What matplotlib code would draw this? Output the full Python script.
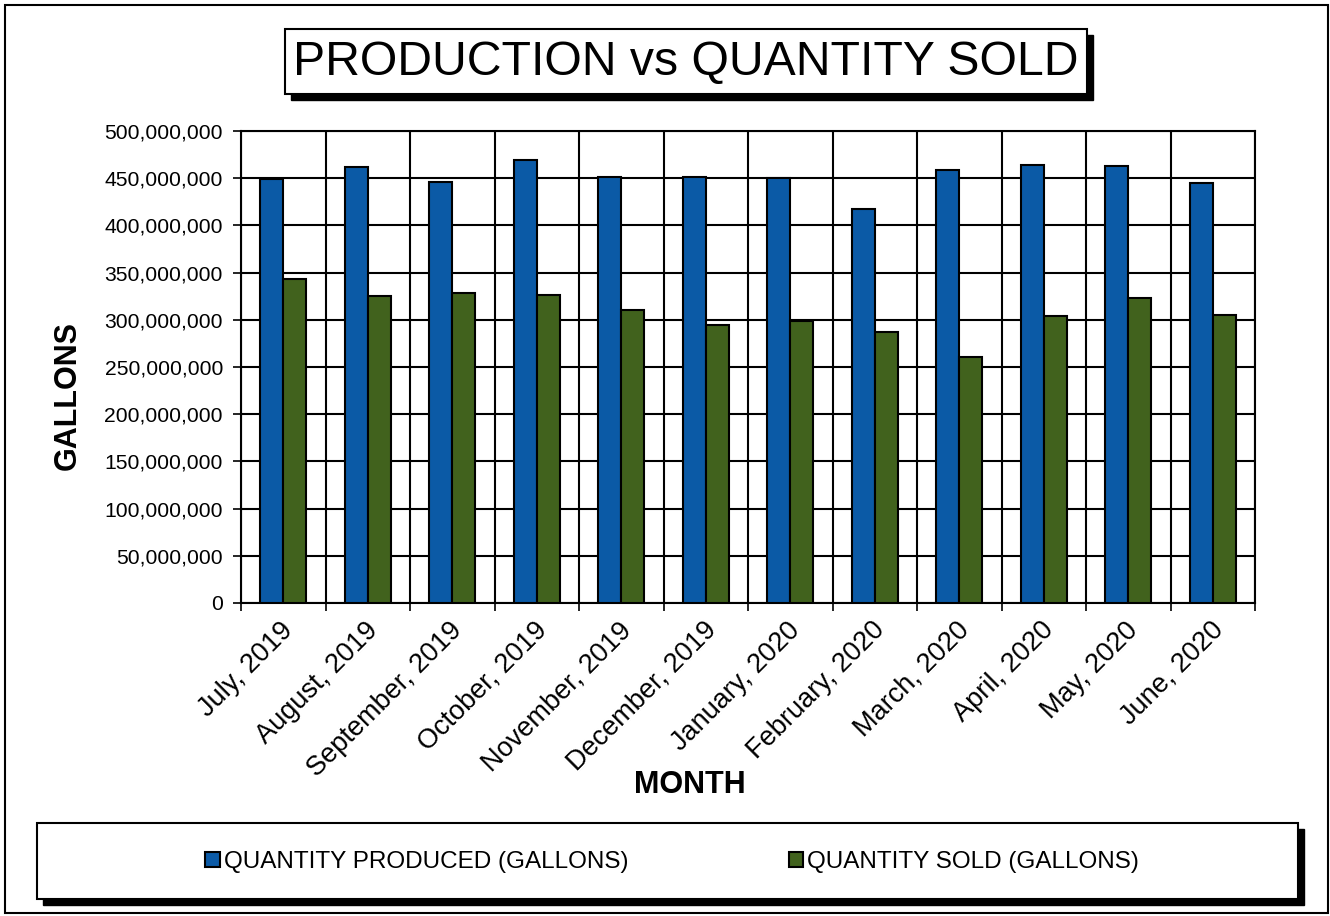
import matplotlib
matplotlib.use("Agg")
import matplotlib.pyplot as plt
from matplotlib.patches import Rectangle
import numpy as np

months = ["July, 2019", "August, 2019", "September, 2019", "October, 2019",
          "November, 2019", "December, 2019", "January, 2020", "February, 2020",
          "March, 2020", "April, 2020", "May, 2020", "June, 2020"]
produced = [449e6, 462e6, 446e6, 469e6, 451e6, 451e6, 450.5e6, 417e6,
            459e6, 464.5e6, 463e6, 445e6]
sold = [343e6, 325e6, 328e6, 326e6, 310e6, 294e6, 299e6, 287e6,
        260.5e6, 304.5e6, 323e6, 305e6]
yticks = np.arange(0, 500e6 + 1, 50e6)

plt.rcParams['font.family'] = ['Liberation Sans', 'DejaVu Sans']

W, H = 1330, 916
fig = plt.figure(figsize=(W / 100, H / 100), dpi=100)

def fx(px):
    return px / W

def fy(py):
    return 1 - py / H

# outer border
fig.patches.append(Rectangle((fx(5), fy(913)), fx(1323), 908 / H, transform=fig.transFigure,
                             fill=False, edgecolor='black', lw=1.5, zorder=0))

ax = fig.add_axes([fx(241), fy(603), fx(1255 - 241), (603 - 131) / H])
x = np.arange(len(months))
bw = 0.27
blue = '#0B5AA6'
green = '#41621D'
b1 = ax.bar(x - bw / 2, produced, bw, color=blue, edgecolor='black', lw=1.5, zorder=3,
            label='QUANTITY PRODUCED (GALLONS)')
b2 = ax.bar(x + bw / 2, sold, bw, color=green, edgecolor='black', lw=1.5, zorder=3,
            label='QUANTITY SOLD (GALLONS)')

ax.set_xlim(-0.5, len(months) - 0.5)
ax.set_ylim(0, 500e6)
ax.set_yticks(yticks)
ax.set_yticklabels([f"{int(v):,}" for v in yticks], fontsize=15.2)
ax.set_xticks(np.arange(-0.5, len(months), 1.0))
ax.set_xticklabels([])
ax.tick_params(axis='both', length=6, width=1.2, color='black')
ax.tick_params(axis='y', pad=7)
ax.grid(True, axis='both', color='black', lw=1.5, zorder=1)
ax.set_axisbelow(True)
for s in ax.spines.values():
    s.set_color('black')
    s.set_linewidth(1.5)

for i, m in enumerate(months):
    ax.annotate(m, xy=(i, 0), xycoords=('data', 'data'), xytext=(-3, -14),
                textcoords='offset pixels', rotation=45, ha='right', va='top',
                rotation_mode='anchor', fontsize=19.5)

fig.text(fx(690), fy(785), 'MONTH', fontsize=22, fontweight='bold', ha='center', va='center')
fig.text(fx(68), fy(396), 'GALLONS', fontsize=22, fontweight='bold', ha='center', va='center',
         rotation=90)

# title box
tx0, ty0, tx1, ty1 = 285, 29, 1087, 94
sh = 6
fig.patches.append(Rectangle((fx(tx0 + sh), fy(ty1 + sh)), fx(tx1 - tx0), (ty1 - ty0) / H,
                             transform=fig.transFigure, facecolor='black', edgecolor='black', zorder=1))
fig.patches.append(Rectangle((fx(tx0), fy(ty1)), fx(tx1 - tx0), (ty1 - ty0) / H,
                             transform=fig.transFigure, facecolor='white', edgecolor='black', lw=1.5, zorder=2))
fig.text(fx((tx0 + tx1) / 2), fy((ty0 + ty1) / 2 + 1), 'PRODUCTION vs QUANTITY SOLD', fontsize=34.7,
         ha='center', va='center', zorder=3)

# legend box
lx0, ly0, lx1, ly1 = 37, 823, 1298, 899
sh = 6
fig.patches.append(Rectangle((fx(lx0 + sh), fy(ly1 + sh)), fx(lx1 - lx0), (ly1 - ly0) / H,
                             transform=fig.transFigure, facecolor='black', edgecolor='black', zorder=1))
fig.patches.append(Rectangle((fx(lx0), fy(ly1)), fx(lx1 - lx0), (ly1 - ly0) / H,
                             transform=fig.transFigure, facecolor='white', edgecolor='black', lw=1.5, zorder=2))
leg = fig.legend(handles=[b1, b2], loc='center', bbox_to_anchor=(fx(672), fy(862)), ncol=2,
                 frameon=False, fontsize=17.5, handlelength=0.6, handleheight=0.6,
                 handletextpad=0.15, columnspacing=6.6)
leg.set_zorder(5)

fig.savefig('out.png', dpi=100)
